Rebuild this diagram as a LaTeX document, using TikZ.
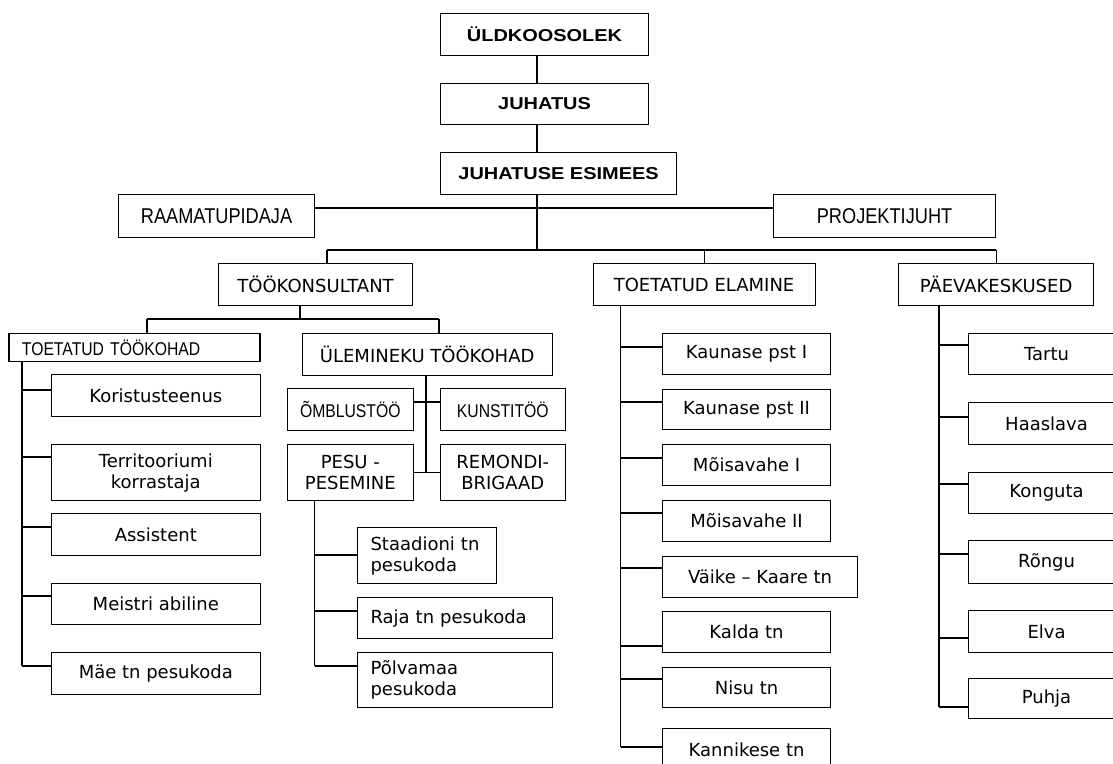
\documentclass[tikz,border=0pt]{standalone}
\usepackage{fontspec}
\setmainfont{DejaVu Sans}
\newfontfamily\nfont[FakeStretch=0.85]{Liberation Sans}
\newfontfamily\hfont[FakeStretch=1.16]{Liberation Sans Bold}
\usetikzlibrary{calc}
\newcommand\hookto[3]{\coordinate (hk#3) at (#1,#2); \draw (hk#3) -- (hk#3 -| #3.west);}
\begin{document}
\begin{tikzpicture}[x=1pt,y=-1pt,line width=1.1pt,
  box/.style={draw,line width=1.1pt,anchor=north west,inner sep=0pt,align=center,
    font=\fontsize{18}{21}\selectfont},
  head/.style={box,font=\hfont\fontsize{17.2}{20}\selectfont},
  narrow/.style={box,font=\nfont\fontsize{21.4}{24}\selectfont},
  narrows/.style={box,font=\nfont\fontsize{18.5}{21}\selectfont},
  lbox/.style={box,align=left,inner xsep=13pt}]
\useasboundingbox (0,0) rectangle (1113,763);
\clip (0,0) rectangle (1113,763);
\fill[white] (0,0) rectangle (1113,763);
% top
\node[head,minimum width=208pt,minimum height=42pt] (uld) at (440,13) {ÜLDKOOSOLEK};
\node[head,minimum width=208pt,minimum height=41pt] (juh) at (440,83) {JUHATUS};
\node[head,minimum width=236pt,minimum height=42pt] (esi) at (440,152) {JUHATUSE ESIMEES};
\node[narrow,minimum width=196pt,minimum height=43pt] (raa) at (118,194) {RAAMATUPIDAJA};
\node[narrow,minimum width=222pt,minimum height=43pt] (pro) at (773,194) {PROJEKTIJUHT};
% level 2
\node[box,minimum width=194pt,minimum height=42pt] (tko) at (218,263) {TÖÖKONSULTANT};
\node[box,minimum width=222pt,minimum height=42pt] (tel) at (592.5,263) {TOETATUD ELAMINE};
\node[box,minimum width=195pt,minimum height=42pt] (pae) at (898,263) {PÄEVAKESKUSED};
% level 3
\node[narrows,align=left,inner xsep=13pt,text width=225pt,minimum width=251pt,minimum height=28pt] (ttk) at (8.4,333) {TOETATUD TÖÖKOHAD};
\node[box,minimum width=250pt,minimum height=42pt] (ule) at (301.6,333) {ÜLEMINEKU TÖÖKOHAD};
% toetatud tookohad
\node[box,minimum width=208.5pt,minimum height=42pt] (kor) at (51,374) {Koristusteenus};
\node[box,minimum width=208.5pt,minimum height=56pt] (ter) at (51,444) {Territooriumi\\korrastaja};
\node[box,minimum width=208.5pt,minimum height=42pt] (ass) at (51,513) {Assistent};
\node[box,minimum width=208.5pt,minimum height=41pt] (mei) at (51,583) {Meistri abiline};
\node[box,minimum width=208.5pt,minimum height=42pt] (mae) at (51,652) {Mäe tn pesukoda};
% ulemineku
\node[narrows,minimum width=125.5pt,minimum height=42pt] (omb) at (287,388) {ÕMBLUSTÖÖ};
\node[narrows,minimum width=124.5pt,minimum height=42pt] (kun) at (440,388) {KUNSTITÖÖ};
\node[box,minimum width=125.5pt,minimum height=56pt] (pes) at (287,444) {PESU -\\PESEMINE};
\node[box,minimum width=124.5pt,minimum height=56pt] (rem) at (440,444) {REMONDI-\\BRIGAAD};
\node[lbox,text width=113pt,minimum width=139pt,minimum height=56pt] (sta) at (357,527) {Staadioni tn\\pesukoda};
\node[lbox,text width=169pt,minimum width=195pt,minimum height=41pt] (raj) at (357,597) {Raja tn pesukoda};
\node[lbox,text width=169pt,minimum width=195pt,minimum height=55pt] (pol) at (357,652) {Põlvamaa\\pesukoda};
% toetatud elamine
\node[box,minimum width=168pt,minimum height=41pt] (ka) at (662,333) {Kaunase pst I};
\node[box,minimum width=168pt,minimum height=40pt] (kb) at (662,389) {Kaunase pst II};
\node[box,minimum width=168pt,minimum height=41pt] (ma) at (662,444) {Mõisavahe I};
\node[box,minimum width=168pt,minimum height=41pt] (mb) at (662,500) {Mõisavahe II};
\node[box,minimum width=195pt,minimum height=41pt] (vk) at (662,556) {Väike – Kaare tn};
\node[box,minimum width=168pt,minimum height=41pt] (kal) at (662,611) {Kalda tn};
\node[box,minimum width=168pt,minimum height=40pt] (nis) at (662,667) {Nisu tn};
\node[box,minimum width=168pt,minimum height=42pt] (kan) at (662,728) {Kannikese tn};
% paevakeskused
\node[box,minimum width=156pt,minimum height=41pt] (tar) at (968,333) {Tartu};
\node[box,minimum width=156pt,minimum height=42pt] (haa) at (968,402) {Haaslava};
\node[box,minimum width=156pt,minimum height=41pt] (kon) at (968,472) {Konguta};
\node[box,minimum width=156pt,minimum height=43pt] (ron) at (968,540) {Rõngu};
\node[box,minimum width=156pt,minimum height=42pt] (elv) at (968,610) {Elva};
\node[box,minimum width=156pt,minimum height=40pt] (puh) at (968,678) {Puhja};
% top connectors
\coordinate (tx) at (537,0);
\coordinate (bus) at (537,250);
\coordinate (hy) at (0,208);
\draw (uld.south -| tx) -- (juh.north -| tx);
\draw (juh.south -| tx) -- (esi.north -| tx);
\draw (esi.south -| tx) -- (bus);
\draw (raa.east |- hy) -- (pro.west |- hy);
\coordinate (b1) at (327,250);
\draw (b1) -- (pae.north |- bus);
\draw (b1) -- (b1 |- tko.north);
\draw (tel.north |- bus) -- (tel.north);
\draw (pae.north |- bus) -- (pae.north);
% tookonsultant
\coordinate (s1) at (300,319);
\coordinate (s0) at (147,319);
\coordinate (s2) at (439,319);
\draw (s1 |- tko.south) -- (s1);
\draw (s0) -- (s2);
\draw (s0) -- (s0 |- ttk.north);
\draw (s2) -- (s2 |- ule.north);
% toetatud tookohad spine
\coordinate (tA) at (22,666);
\draw (tA |- ttk.south) -- (tA);
\hookto{22}{390}{kor}
\hookto{22}{457}{ter}
\hookto{22}{527}{ass}
\hookto{22}{596}{mei}
\hookto{22}{666}{mae}
% ulemineku spine
\coordinate (uA) at (426,472);
\coordinate (oy) at (0,402);
\draw (uA |- ule.south) -- (uA);
\draw (omb.east |- oy) -- (kun.west |- oy);
\draw (pes.east) -- (rem.west);
% pesu spine
\coordinate (pA) at (314.6,666);
\draw (pA |- pes.south) -- (pA);
\hookto{314.6}{555}{sta}
\hookto{314.6}{611}{raj}
\hookto{314.6}{666}{pol}
% toetatud elamine spine
\coordinate (eA) at (620.7,747);
\draw (eA |- tel.south) -- (eA);
\hookto{620.7}{347}{ka}
\hookto{620.7}{402}{kb}
\hookto{620.7}{458}{ma}
\hookto{620.7}{513}{mb}
\hookto{620.7}{568}{vk}
\hookto{620.7}{646}{kal}
\hookto{620.7}{679}{nis}
\hookto{620.7}{747}{kan}
% paevakeskused spine
\coordinate (dA) at (939,707);
\draw (dA |- pae.south) -- (dA);
\hookto{939}{345}{tar}
\hookto{939}{417}{haa}
\hookto{939}{484}{kon}
\hookto{939}{554}{ron}
\hookto{939}{638}{elv}
\hookto{939}{707}{puh}
\end{tikzpicture}
\end{document}
